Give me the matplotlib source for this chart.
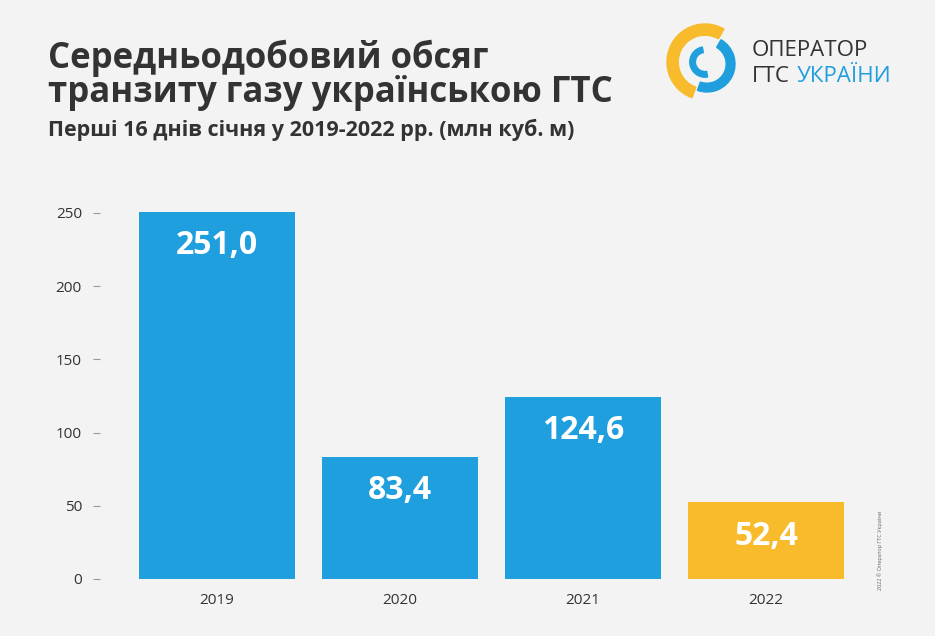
import matplotlib
matplotlib.use("Agg")
import matplotlib.pyplot as plt
from matplotlib.patches import Wedge

years = ["2019", "2020", "2021", "2022"]
values = [251.0, 83.4, 124.6, 52.4]
labels = ["251,0", "83,4", "124,6", "52,4"]
colors = ["#1f9fdd", "#1f9fdd", "#1f9fdd", "#f8bb2c"]
yticks = [0, 50, 100, 150, 200, 250]

W, H = 935, 636
bg = "#f3f3f3"
fig = plt.figure(figsize=(W/100, H/100), dpi=100, facecolor=bg)
plt.rcParams["font.family"] = "Open Sans"

x0, x1 = 100, 860
ytop = 579 - 260*1.464
ax = fig.add_axes([x0/W, (H-579)/H, (x1-x0)/W, (579-ytop)/H])
ax.set_facecolor(bg)
xs = range(len(years))
ax.bar(xs, values, width=0.85, color=colors)
ax.set_xlim(-(217-x0)/183, (x1-217)/183)
ax.set_ylim(0, 260)
for x, v, l in zip(xs, values, labels):
    ax.text(x, v - 12, l, ha="center", va="top", color="white", fontsize=23, fontweight="bold")
ax.set_yticks(yticks)
ax.set_xticks(list(xs))
ax.set_xticklabels(years)
for s in ax.spines.values():
    s.set_visible(False)
ax.tick_params(axis="y", length=5, color="#999999", labelsize=11, labelcolor="#333333", pad=8)
ax.tick_params(axis="x", length=0, labelsize=11, labelcolor="#333333", pad=10)

fig.text(48/W, 1-58/H, "Середньодобовий обсяг", fontsize=25, fontweight="bold", color="#333333", va="center")
fig.text(48/W, 1-93/H, "транзиту газу українською ГТС", fontsize=25, fontweight="bold", color="#333333", va="center")
fig.text(48/W, 1-130/H, "Перші 16 днів січня у 2019-2022 рр. (млн куб. м)", fontsize=15.5, fontweight="bold", color="#333333", va="center")

# logo
lax = fig.add_axes([665/W, 1-102/H, 80/W, 80/H])
lax.set_xlim(-1, 1); lax.set_ylim(-1, 1); lax.axis("off")
lax.add_patch(Wedge((0, 0), 0.95, 60, 250, width=0.28, color="#f8bb2c"))
lax.add_patch(Wedge((0.05, -0.05), 0.7, 250, 60, width=0.22, color="#1f9fdd"))
lax.add_patch(Wedge((0, 0), 0.38, 100, 280, width=0.14, color="#1f9fdd"))
fig.text(752/W, 1-50/H, "ОПЕРАТОР", fontsize=16, color="#333333", va="center")
fig.text(752/W, 1-76/H, "ГТС", fontsize=16, color="#333333", va="center")
fig.text(797/W, 1-76/H, "УКРАЇНИ", fontsize=16, color="#1f9fdd", va="center")
fig.text(880/W, 1-550/H, "2022 © Оператор ГТС України", fontsize=4, color="#666666", rotation=90, ha="center", va="center")

fig.savefig("out.png", dpi=100, facecolor=bg)
